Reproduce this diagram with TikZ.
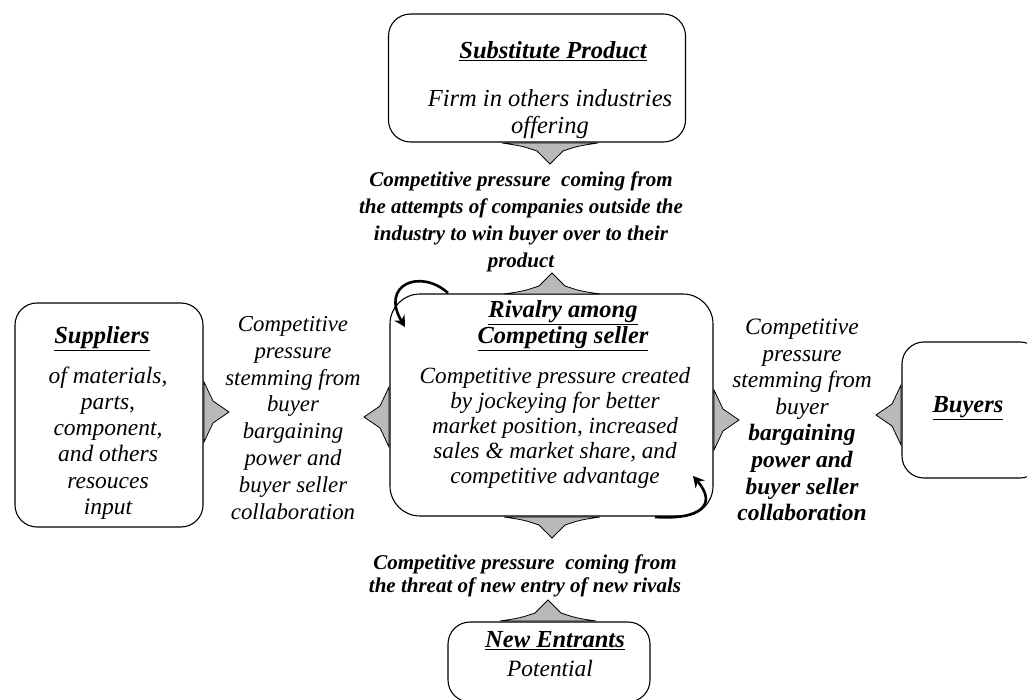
\documentclass[tikz,border=0pt]{standalone}
\usepackage{fontspec}
\setmainfont{Liberation Serif}
\usetikzlibrary{arrows.meta}
\begin{document}
\begin{tikzpicture}[x=1pt,y=-1pt,
  box/.style={draw, line width=1.1pt, rounded corners=22pt, inner sep=0pt},
  txt/.style={align=center, inner sep=0pt, font=\fontsize{22}{26.5}\selectfont\itshape},
  btxt/.style={align=center, inner sep=0pt, font=\fontsize{21}{27}\selectfont\bfseries\itshape},
  ttl/.style={align=center, inner sep=0pt, font=\fontsize{24.5}{26}\selectfont\bfseries\itshape},
  head/.style={fill=gray!55, draw=black, line width=0.8pt},
  curly/.style={line width=2.6pt, -{Stealth[length=11pt,width=12pt]}},
  hhead/.pic={\filldraw[head] (-48,0) -- (48,0) .. controls (28,3) .. (13,8) -- (0,21) -- (-13,8) .. controls (-28,3) .. cycle;},
  vhead/.pic={\filldraw[head] (0,-30) -- (0,30) .. controls (4,20) .. (9,11) -- (25,0) -- (9,-11) .. controls (4,-20) .. cycle;}
]
\useasboundingbox (0,0) rectangle (1027,700);

% boxes
\node[box, minimum width=297pt, minimum height=128pt] (sub) at (537,78) {};
\node[box, minimum width=323pt, minimum height=222pt, rounded corners=30pt] (riv) at (551.5,405) {};
\node[box, minimum width=188pt, minimum height=224pt] (sup) at (109,415) {};
\node[box, minimum width=140pt, minimum height=136pt] (buy) at (972,410) {};
\node[box, minimum width=202pt, minimum height=80pt] (ent) at (549,662) {};

% box texts
\node[ttl] (subt) at (553,51) {\underline{Substitute Product}};
\node[txt, font=\fontsize{24.5}{27}\selectfont\itshape] (subb) at (550,114) {Firm in others industries\\offering};

\node[ttl] (rivt) at (563,326) {\underline{Rivalry among}\\\underline{Competing seller}};
\node[txt, font=\fontsize{23.2}{25}\selectfont\itshape] (rivb) at (555,428) {Competitive pressure created\\by jockeying for better\\market position, increased\\sales \& market share, and\\competitive advantage};

\node[ttl] (supt) at (102,339) {\underline{Suppliers}};
\node[txt, font=\fontsize{23.5}{26.2}\selectfont\itshape] (supb) at (108,443) {of materials,\\parts,\\component,\\and others\\resouces\\input};

\node[ttl] (buyt) at (968,408) {\underline{Buyers}};

\node[ttl] (entt) at (555,641) {\underline{New Entrants}};
\node[txt, font=\fontsize{23.4}{26}\selectfont\itshape] (entb) at (550,668) {Potential};

% pressure texts
\node[btxt] (toptxt) at (521,222) {Competitive pressure\ \ coming from\\the attempts of companies outside the\\industry to win buyer over to their\\product};
\node[btxt, font=\fontsize{21}{23}\selectfont\bfseries\itshape] (bottxt) at (525,576) {Competitive pressure\ \ coming from\\the threat of new entry of new rivals};
\node[txt, font=\fontsize{22.8}{26.9}\selectfont\itshape] (lefttxt) at (293,418) {Competitive\\pressure\\stemming from\\buyer\\bargaining\\power and\\buyer seller\\collaboration};
\node[txt, font=\fontsize{23.5}{26.6}\selectfont\itshape] (righttxt) at (802,420) {Competitive\\pressure\\stemming from\\buyer\\{\bfseries bargaining}\\{\bfseries power and}\\{\bfseries buyer seller}\\{\bfseries collaboration}};

% arrow heads
\pic at (550,143) {hhead};
\pic[yscale=-1] at (552,294) {hhead};
\pic at (552,517) {hhead};
\pic[yscale=-1] at (548,621) {hhead};
\pic at (204,412) {vhead};
\pic[xscale=-1] at (389,417) {vhead};
\pic at (714,420) {vhead};
\pic[xscale=-1] at (901,415) {vhead};

% rivalry curly arrows
\coordinate (c1s) at (448,293);
\coordinate (c1e) at (405,327);
\draw[curly] (c1s) .. controls (420,268) and (380,285) .. (c1e);
\coordinate (c2s) at (655,517);
\coordinate (c2e) at (693,476);
\draw[curly] (c2s) .. controls (700,520) and (718,505) .. (c2e);
\end{tikzpicture}
\end{document}
